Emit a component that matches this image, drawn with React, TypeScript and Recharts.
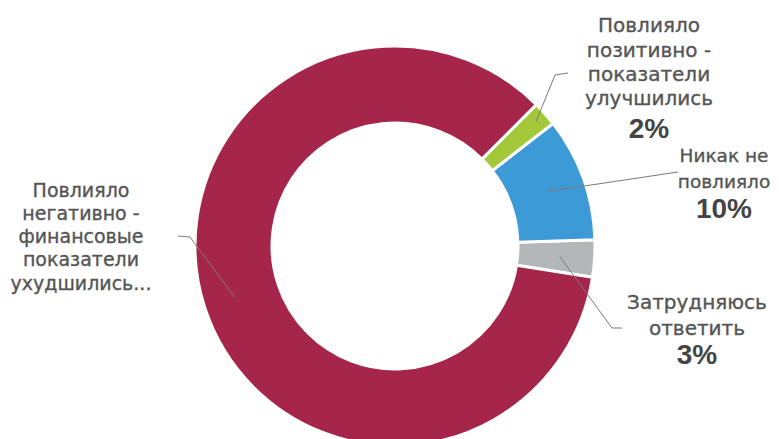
import { PieChart, Pie, Cell } from "recharts"

// order follows the ring counter-clockwise, starting just below 3 o'clock
const categories = [
  "Затрудняюсь ответить",
  "Никак не повлияло",
  "Повлияло позитивно - показатели улучшились",
  "Повлияло негативно - финансовые показатели ухудшились...",
]
const shares = [3, 10, 2, 85]
const labelLines = [
  ["Затрудняюсь", "ответить"],
  ["Никак не", "повлияло"],
  ["Повлияло", "позитивно -", "показатели", "улучшились"],
  ["Повлияло", "негативно -", "финансовые", "показатели", "ухудшились..."],
]
const percentLabels = ["3%", "10%", "2%", ""]
const colors = ["#B4B7BA", "#3C9AD6", "#A3C93A", "#A6254A"]

const data = categories.map((name, i) => ({ name, value: shares[i] }))

const RADIAN = Math.PI / 180

// label placement relative to the pie centre
const layout = [
  { r: 165, elbow: [217, 82], end: [227, 82], x: 302, ys: [56, 82], pct: 108, size: 20 },
  { r: 160, elbow: null, end: [283, -74], x: 329, ys: [-91, -65], pct: -38, size: 18.5 },
  { r: 188, elbow: [160, -171], end: [173, -173], x: 254, ys: [-221, -196, -172, -148], pct: -118, size: 20 },
  { r: 168, elbow: [-205, -9], end: [-217, -10], x: -314, ys: [-56, -33, -10, 13, 37], pct: 0, size: 19 },
]

function renderLabel(props: any) {
  const { cx, cy, midAngle, index } = props
  const cfg = layout[index]
  const sx = cx + cfg.r * Math.cos(-midAngle * RADIAN)
  const sy = cy + cfg.r * Math.sin(-midAngle * RADIAN)
  const pts = [[sx, sy]]
  if (cfg.elbow) pts.push([cx + cfg.elbow[0], cy + cfg.elbow[1]])
  pts.push([cx + cfg.end[0], cy + cfg.end[1]])
  return (
    <g key={`lbl-${index}`}>
      <polyline
        points={pts.map((p) => p.join(",")).join(" ")}
        fill="none"
        stroke="#7a7a7a"
        strokeWidth={1}
      />
      {labelLines[index].map((line, j) => (
        <text
          key={j}
          x={cx + cfg.x}
          y={cy + cfg.ys[j]}
          textAnchor="middle"
          dominantBaseline="central"
          fill="#555"
          stroke="#555"
          strokeWidth={0.35}
          fontSize={cfg.size}
          fontFamily="DejaVu Sans"
        >
          {line}
        </text>
      ))}
      {percentLabels[index] && (
        <text
          x={cx + cfg.x}
          y={cy + cfg.pct}
          textAnchor="middle"
          dominantBaseline="central"
          fill="#444"
          fontSize={28}
          fontWeight="bold"
          fontFamily="Liberation Sans"
        >
          {percentLabels[index]}
        </text>
      )}
    </g>
  )
}

export default function App() {
  return (
    <div style={{ position: "fixed", left: 0, top: 0, width: 779, height: 439, background: "#fff" }}>
      <PieChart width={779} height={439} margin={{ top: 0, right: 0, bottom: 0, left: 0 }}>
        <Pie
          data={data}
          dataKey="value"
          cx={395}
          cy={246}
          innerRadius={123}
          outerRadius={200}
          startAngle={-9}
          endAngle={351}
          stroke="#fff"
          strokeWidth={3}
          label={renderLabel}
          labelLine={false}
          isAnimationActive={false}
        >
          {data.map((d, i) => (
            <Cell key={d.name} fill={colors[i]} />
          ))}
        </Pie>
      </PieChart>
    </div>
  )
}
